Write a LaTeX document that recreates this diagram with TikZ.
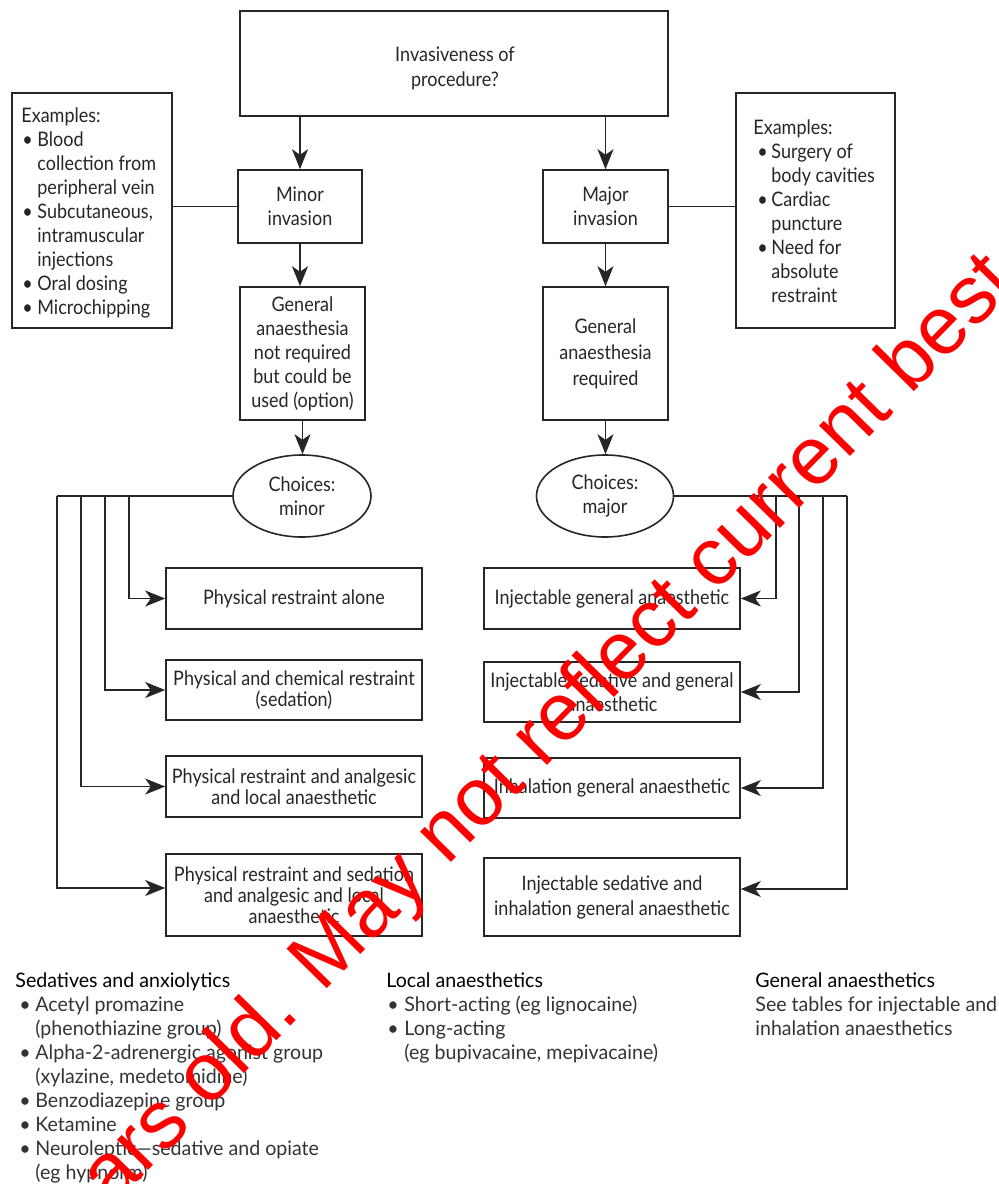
\documentclass[tikz,border=0pt]{standalone}
\usepackage{fontspec}
\setmainfont{Lato}
\newfontfamily\boxfont{Lato}[FakeStretch=0.9]
\newfontfamily\notefont{Lato}[FakeStretch=0.98]
\newfontfamily\markfont{Liberation Sans}
\usetikzlibrary{arrows.meta,shapes.geometric}
\newcommand{\fsz}[2]{\fontsize{#1}{#2}\selectfont}
\newcommand{\bul}[1]{\hspace*{#1}\textbullet}

\begin{document}
\begin{tikzpicture}[x=0.5pt,y=-0.5pt,
  box/.style={draw=black!85, line width=0.8pt, rectangle, inner sep=0pt, align=center,
              text=black!85, font=\boxfont\fsz{10}{12}},
  oval/.style={box, ellipse},
  arr/.style={draw=black!85, line width=0.7pt, -{Stealth[length=10pt,width=8pt,inset=2.8pt]}},
  link/.style={draw=black!85, line width=0.7pt},
  note/.style={inner sep=0pt, anchor=north west, align=left, text=black!85,
               font=\boxfont\fsz{10}{12}},
  legend/.style={inner sep=0pt, anchor=north west, align=left, text=black!80,
               font=\notefont\fsz{10}{12}}
]
\useasboundingbox (0,0) rectangle (998,1184);

% --- decision chain -------------------------------------------------
\node[box, minimum width=214pt, minimum height=52.5pt] (top) at (454,63.5) {};
\node[inner sep=0pt, align=center, text=black!85, font=\boxfont\fsz{10}{12.5}]
  (toptext) at (455,68) {Invasiveness of\\procedure?};
\node[box, minimum width=62pt, minimum height=36.5pt] (minor) at (300,206.5) {Minor\\invasion};
\node[box, minimum width=62.5pt, minimum height=36.5pt] (major) at (605.5,206.5) {Major\\invasion};
\node[box, minimum width=62.5pt, minimum height=66.5pt] (gnr) at (302.5,353.5)
  {General\\anaesthesia\\not required\\but could be\\used (option)};
\node[box, minimum width=62.5pt, minimum height=66.5pt, font=\boxfont\fsz{10}{13}] (gr) at (605.5,353.5)
  {General\\anaesthesia\\required};
\node[oval, minimum width=69pt, minimum height=41pt] (chmin) at (302,496) {Choices:\\minor};
\node[oval, minimum width=68.5pt, minimum height=41pt] (chmaj) at (605,496) {Choices:\\major};

% --- example boxes ----------------------------------------------------
\node[box, minimum width=80pt, minimum height=117.5pt] (exL) at (92,210.5) {};
\node[note] (exLtext) at (21,105) {%
  \begin{tabular}{@{}p{8pt}@{}l@{}}
  \multicolumn{2}{@{}l@{}}{Examples:}\\
  \bul{0.5pt} & Blood\\
   & collection from\\
   & peripheral vein\\
  \bul{0.5pt} & Subcutaneous,\\
   & intramuscular\\
   & injections\\
  \bul{0.5pt} & Oral dosing\\
  \bul{0.5pt} & Microchipping
  \end{tabular}};
\node[box, minimum width=79.5pt, minimum height=117.5pt] (exR) at (815.5,210.5) {};
\node[note] (exRtext) at (753,117) {%
  \begin{tabular}{@{}p{9pt}@{}l@{}}
  \multicolumn{2}{@{}l@{}}{Examples:}\\
  \bul{2pt} & Surgery of\\
   & body cavities\\
  \bul{2pt} & Cardiac\\
   & puncture\\
  \bul{2pt} & Need for\\
   & absolute\\
   & restraint
  \end{tabular}};

% --- options ------------------------------------------------------------
\begin{scope}[every node/.append style={box, minimum width=128pt, font=\boxfont\fsz{10}{10.5}}]
\node[minimum height=30.5pt] (L1) at (294,598.5) {Physical restraint alone};
\node[minimum height=30pt]   (L2) at (294,690) {Physical and chemical restraint\\(sedation)};
\node[minimum height=30.5pt] (L3) at (294,786.5) {Physical restraint and analgesic\\and local anaesthetic};
\node[minimum height=41pt]   (L4) at (294,895) {Physical restraint and sedation\\and analgesic and local\\anaesthetic};
\node[minimum height=30.5pt] (R1) at (612,598.5) {Injectable general anaesthetic};
\node[minimum height=30pt, font=\boxfont\fsz{10}{12}] (R2) at (612,692) {Injectable sedative and general\\anaesthetic};
\node[minimum height=30pt]   (R3) at (612,788) {Inhalation general anaesthetic};
\node[minimum height=39pt, font=\boxfont\fsz{10}{12.5}] (R4) at (612,897) {Injectable sedative and\\inhalation general anaesthetic};
\end{scope}

% --- connectors ---------------------------------------------------------
\draw[arr] (top.south -| minor.north) -- (minor.north);
\draw[arr] (top.south -| major.north) -- (major.north);
\draw[arr] (minor.south) -- (minor.south |- gnr.north);
\draw[arr] (major.south) -- (gr.north);
\draw[arr] (gnr.south) -- (gnr.south |- chmin.north);
\draw[arr] (gr.south) -- (gr.south |- chmaj.north);
\draw[link] (minor.west) -- (minor.west -| exL.east);
\draw[link] (major.east) -- (major.east -| exR.west);

\coordinate (la1) at (129,496);
\coordinate (la2) at (105,496);
\coordinate (la3) at (81,496);
\coordinate (la4) at (57,496);
\draw[link] (chmin.west) -- (la4);
\draw[arr] (la1) |- (L1.west);
\draw[arr] (la2) |- (L2.west);
\draw[arr] (la3) |- (L3.west);
\draw[arr] (la4) |- ([yshift=3.5pt]L4.west);

\coordinate (rb1) at (776,496);
\coordinate (rb2) at (799,496);
\coordinate (rb3) at (823,496);
\coordinate (rb4) at (847,496);
\draw[link] (chmaj.east) -- (rb4);
\draw[arr] (rb1) |- (R1.east);
\draw[arr] (rb2) |- (R2.east);
\draw[arr] (rb3) |- (R3.east);
\draw[arr] (rb4) |- ([yshift=4pt]R4.east);

% --- drug notes ---------------------------------------------------------
\node[legend] (sed) at (15,970) {%
  \begin{tabular}{@{}p{10pt}@{}l@{}}
  \multicolumn{2}{@{}l@{}}{\color{black}Sedatives and anxiolytics}\\
  \bul{2pt} & Acetyl promazine\\
   & (phenothiazine group)\\
  \bul{2pt} & Alpha-2-adrenergic agonist group\\
   & (xylazine, medetomidine)\\
  \bul{2pt} & Benzodiazepine group\\
  \bul{2pt} & Ketamine\\
  \bul{2pt} & Neuroleptic—sedative and opiate\\
   & (eg hypnorm)
  \end{tabular}};
\node[legend] (loc) at (386,970) {%
  \begin{tabular}{@{}p{9pt}@{}l@{}}
  \multicolumn{2}{@{}l@{}}{\color{black}Local anaesthetics}\\
  \bul{0.5pt} & Short-acting (eg lignocaine)\\
  \bul{0.5pt} & Long-acting\\
   & (eg bupivacaine, mepivacaine)
  \end{tabular}};
\node[legend] (gen) at (755,970) {%
  \begin{tabular}{@{}l@{}}
  \color{black}General anaesthetics\\
  See tables for injectable and\\
  inhalation anaesthetics
  \end{tabular}};

% --- stamp across the sheet ---------------------------------------------
\begin{scope}
\clip (0,0) rectangle (998,1184);
\node[text=red, font=\markfont\fontsize{41}{41}\selectfont, rotate=45.5, anchor=base, inner sep=0pt]
  (stamp) at (566,746) {ars old. May not reflect current best};
\end{scope}
\end{tikzpicture}
\end{document}
